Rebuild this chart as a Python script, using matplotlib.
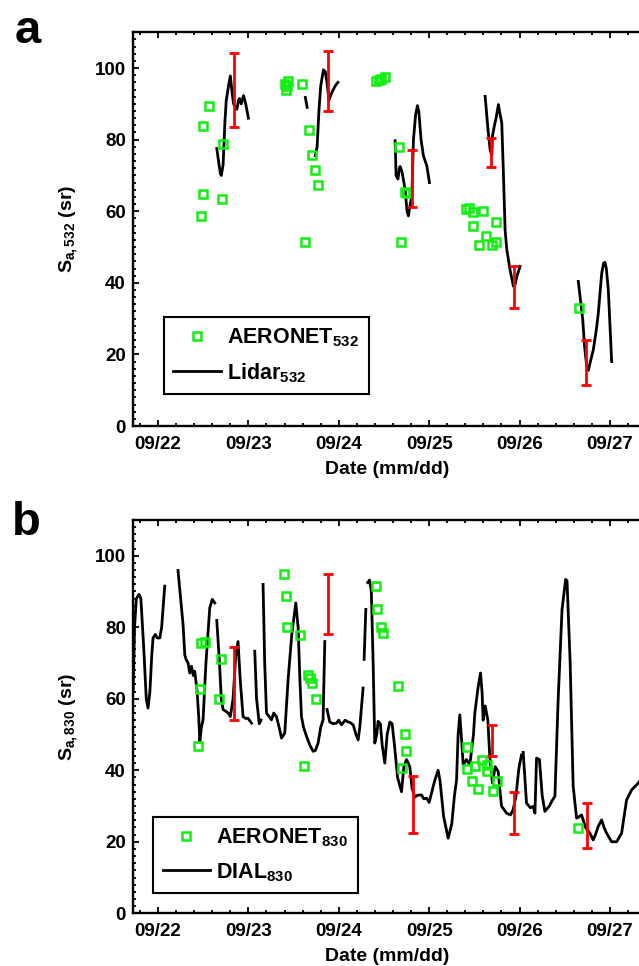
import numpy as np
import matplotlib
matplotlib.use('Agg')
import matplotlib.pyplot as plt
from matplotlib.ticker import MultipleLocator

nan = np.nan

# ---- panel a : 532 nm ----
aeronet532_day = [22.47, 22.50, 22.71, 22.50, 22.56, 22.72, 23.40, 23.42, 23.44, 23.43, 23.59,
                  23.67, 23.70, 23.74, 23.77, 23.63, 24.41, 24.44, 24.47, 24.51, 24.67, 24.73,
                  24.75, 24.69, 25.41, 25.44, 25.48, 25.59, 25.74, 25.48, 25.63, 25.55, 25.70,
                  25.74, 26.66]
aeronet532_val = [58.7, 64.8, 63.4, 83.9, 89.5, 78.8, 95.5, 94.0, 96.5, 95.0, 95.5,
                  82.8, 75.7, 71.5, 67.3, 51.5, 96.3, 96.8, 97.0, 97.4, 78.0, 65.3,
                  65.0, 51.5, 60.6, 60.8, 59.8, 60.1, 57.1, 55.8, 53.2, 50.6, 50.6,
                  51.5, 32.9]

lidar532_day = [22.65, 22.675, 22.69, 22.70, 22.72, 22.74, 22.755, 22.78, 22.80, 22.82, 22.836,
                22.855, 22.873, 22.89, 22.902, 22.92, 22.946, 22.97, 23.0,
                nan,
                23.63, 23.65,
                nan,
                23.74, 23.76, 23.78, 23.80, 23.83, 23.85, 23.87, 23.89, 23.905, 23.92, 23.94,
                23.96, 23.99,
                nan,
                24.623, 24.634, 24.655, 24.67, 24.678, 24.70, 24.734, 24.755, 24.77, 24.79,
                24.808, 24.826, 24.85, 24.87, 24.885, 24.91, 24.936, 24.974, 25.003,
                nan,
                25.619, 25.65, 25.675, 25.693, 25.70, 25.72, 25.74, 25.766, 25.785, 25.803,
                25.82, 25.84, 25.859, 25.895, 25.932, 25.95, 25.97, 26.006,
                nan,
                26.65, 26.699, 26.72, 26.743, 26.76, 26.779, 26.816, 26.85, 26.871, 26.909,
                26.93, 26.945, 26.96, 26.982, 27.019]
lidar532_val = [77.5, 73, 70.5, 70, 73, 85, 91, 95, 97.8, 93, 90,
                89, 88.5, 91, 91.5, 90, 92.3, 90, 86,
                nan,
                91.8, 89,
                nan,
                75.5, 78, 88, 95, 99.5, 99, 96, 91, 92, 93, 94,
                95, 96,
                nan,
                79.7, 70, 69, 72, 72.5, 71, 66, 60, 58.7, 62,
                64, 80, 87, 89.5, 88, 80, 75.5, 72.7, 68,
                nan,
                92.1, 83, 77, 75.8, 81, 83.7, 86, 89.8, 87, 84.7,
                71.6, 54.8, 49.2, 43.6, 39, 39.5, 41.8, 44.6,
                nan,
                40.4, 29.7, 22, 16.6, 15.5, 17.5, 21.3, 27, 31.5, 42.7,
                45.5, 45.7, 44, 38, 18]

err532_day = [22.844, 23.875, 24.815, 25.685, 25.936, 26.732]
err532_low = [83.6, 88.1, 61.3, 72.3, 32.9, 11.5]
err532_high = [104.1, 104.7, 77.2, 80.5, 44.6, 24.1]

# ---- panel b : 830 nm ----
aeronet830_day = [22.443, 22.46, 22.47, 22.52, 22.70, 22.68,
                  23.395, 23.421, 23.432, 23.568, 23.66, 23.679, 23.709, 23.746, 23.616,
                  24.409, 24.424, 24.462, 24.49, 24.656, 24.73, 24.749, 24.694,
                  25.413, 25.413, 25.469, 25.505, 25.58, 25.635, 25.542, 25.708, 25.745,
                  25.635, 26.649]
aeronet830_val = [46.7, 62.7, 75.6, 75.8, 71.1, 59.9,
                  94.9, 88.7, 80.0, 77.8, 66.7, 65.8, 64.4, 59.9, 41.1,
                  91.5, 85.1, 80.0, 78.4, 63.7, 50.1, 45.5, 40.6,
                  46.4, 40.3, 37.1, 41.1, 43.0, 41.5, 34.7, 34.1, 36.9,
                  39.7, 23.8]

dial830_day = [21.725, 21.74, 21.76, 21.79, 21.81, 21.84, 21.87, 21.889, 21.91, 21.93, 21.945,
               21.97, 21.99, 22.019, 22.04, 22.074,
               nan,
               22.221, 22.25, 22.277, 22.296, 22.31, 22.332, 22.351, 22.37, 22.39, 22.406, 22.432,
               22.45, 22.462, 22.48, 22.498, 22.53, 22.572, 22.60, 22.628,
               nan,
               22.65, 22.68, 22.70, 22.719, 22.75, 22.775, 22.80, 22.83, 22.86, 22.885, 22.91,
               22.941, 22.97, 22.996, 23.034,
               nan,
               23.07, 23.09, 23.12, 23.14,
               nan,
               23.162, 23.18, 23.2, 23.23, 23.255, 23.28, 23.31, 23.34, 23.366, 23.402, 23.44,
               23.48, 23.524, 23.55, 23.57, 23.587, 23.61, 23.643, 23.68, 23.716, 23.74, 23.771,
               23.80, 23.826, 23.845,
               nan,
               23.87, 23.90, 23.94, 23.975, 24.0, 24.03, 24.07, 24.10, 24.122, 24.159, 24.19,
               24.214, 24.232, 24.269,
               nan,
               24.28, 24.299,
               nan,
               24.32, 24.34, 24.36, 24.38, 24.398, 24.42, 24.435, 24.46, 24.48, 24.509, 24.535,
               24.565, 24.59, 24.62, 24.65, 24.694, 24.72, 24.749, 24.786, 24.81, 24.841, 24.87,
               24.915, 24.94, 24.971, 25.0, 25.03, 25.06, 25.099, 25.12, 25.16, 25.21, 25.25,
               25.28, 25.303, 25.32, 25.339, 25.36, 25.376, 25.413, 25.45, 25.49, 25.505, 25.54,
               25.568, 25.585, 25.597, 25.62, 25.649, 25.67, 25.70, 25.73, 25.763, 25.80, 25.856,
               25.90, 25.929, 25.96, 25.99, 26.003, 26.022,
               nan,
               26.04, 26.077, 26.12, 26.151, 26.17, 26.188, 26.22, 26.25, 26.28, 26.33, 26.36,
               26.391, 26.427, 26.47, 26.51, 26.525, 26.56, 26.593, 26.631, 26.66, 26.686, 26.73,
               26.778, 26.815, 26.84, 26.87, 26.908, 26.935, 26.963, 27.018, 27.074, 27.129,
               27.184, 27.24, 27.313, 27.36]
dial830_val = [62, 80, 88, 89.2, 88, 75, 60, 57.4, 62, 72, 77,
               78, 77, 77, 80, 91.5,
               nan,
               95.9, 88, 80.7, 72.3, 71, 70, 67.2, 69.1, 66.5, 67.7, 62.1,
               55, 48.1, 52, 54.1, 70, 85.4, 87.8, 86.8,
               nan,
               81.9, 70, 60, 57, 56.5, 56, 55, 60, 72, 76, 65,
               55, 54.5, 54.5, 53.2,
               nan,
               73.3, 60, 53, 54,
               nan,
               92, 70, 56, 55, 54.1, 56, 55, 52, 49, 50.4, 65.7,
               78, 86.8, 80, 65, 55, 52, 49.5, 47, 45.3, 45.5, 47.6,
               52, 54.1, 76,
               nan,
               57, 53.5, 53, 53.2, 54, 52.7, 54, 53.5, 53.4, 52.7, 50,
               48.5, 52, 63,
               nan,
               71, 85,
               nan,
               92.5, 93.2, 90, 70, 47.6, 50, 53.7, 53, 47, 42, 50,
               53.5, 53, 46, 38, 34, 41, 43, 41, 35, 32.5, 33,
               33.1, 32, 32.2, 31, 34, 37, 40, 37, 27, 21, 25,
               33, 37.3, 50, 55.5, 48, 41.5, 43, 41.5, 50, 56, 63,
               67.2, 62, 54, 58, 54, 44, 36.4, 41, 39.7, 30, 28,
               27.5, 29, 32.7, 40, 42, 44.3,
               nan,
               45, 30.8, 29.5, 29.9, 28, 43.4, 43, 33, 28.5, 30, 31.5,
               32.7, 59.8, 85, 93.4, 93, 70, 35.5, 26.6, 27, 27.5, 24,
               22.4, 20.5, 22, 24.3, 26.1, 24, 22.4, 20, 20, 22.4,
               31.7, 34.5, 36.4, 38]

err830_day = [22.841, 23.882, 24.822, 25.69, 25.94, 26.742]
err830_low = [54.1, 78.0, 22.4, 44.1, 22.1, 18.2]
err830_high = [74.5, 94.8, 38.3, 52.7, 33.8, 30.8]

day_ticks = [22, 23, 24, 25, 26, 27]
day_labels = ['09/22', '09/23', '09/24', '09/25', '09/26', '09/27']

plt.rcParams['font.family'] = ['Liberation Sans', 'DejaVu Sans']
plt.rcParams['font.weight'] = 'bold'
plt.rcParams['mathtext.fontset'] = 'custom'
plt.rcParams['mathtext.rm'] = 'Liberation Sans:bold'
plt.rcParams['mathtext.it'] = 'Liberation Sans:bold'
plt.rcParams['mathtext.bf'] = 'Liberation Sans:bold'

green = '#12ee12'

fig = plt.figure(figsize=(6.39, 9.66), dpi=100)
ax_a = fig.add_axes([0.208, 0.559, 0.7966, 0.4076])
ax_b = fig.add_axes([0.208, 0.0546, 0.7966, 0.4071])


def draw_panel(ax, a_day, a_val, l_day, l_val, e_day, e_lo, e_hi, a_lab, l_lab, ylab, leg_xy):
    ax.plot(a_day, a_val, ls='none', marker='s', ms=6, mfc='none', mec=green, mew=1.8,
            label=a_lab, zorder=3)
    ax.plot(l_day, l_val, color='black', lw=2.0, label=l_lab, zorder=2)
    lo = np.array(e_lo)
    hi = np.array(e_hi)
    ax.errorbar(e_day, (lo + hi) / 2, yerr=(hi - lo) / 2, fmt='none', ecolor='red',
                elinewidth=2.0, capsize=3.5, capthick=2.0, zorder=4)

    ax.set_xlim(21.722, 27.354)
    ax.set_ylim(0, 110)
    ax.set_xticks(day_ticks, labels=day_labels)
    ax.set_yticks([0, 20, 40, 60, 80, 100])
    ax.xaxis.set_minor_locator(MultipleLocator(0.2))
    ax.yaxis.set_minor_locator(MultipleLocator(2))
    ax.tick_params(which='both', direction='in', top=True, right=False, width=1.3,
                   labelsize=13.5)
    ax.tick_params(which='major', length=4)
    ax.tick_params(which='minor', length=2)
    ax.tick_params(axis='x', pad=7)
    ax.tick_params(axis='y', pad=5)
    for s in ax.spines.values():
        s.set_linewidth(1.7)
    ax.set_xlabel('Date (mm/dd)', fontsize=14, fontweight='bold', labelpad=6)
    ax.set_ylabel(ylab, fontsize=14, fontweight='bold')
    ax.yaxis.set_label_coords(-0.104, 0.5)

    leg = ax.legend(loc='lower left', bbox_to_anchor=leg_xy, borderaxespad=0,
                    fontsize=15.5, handlelength=2.2, handletextpad=0.3,
                    borderpad=0.45, labelspacing=0.55, fancybox=False, framealpha=1)
    leg.get_frame().set_edgecolor('black')
    leg.get_frame().set_linewidth(1.5)


draw_panel(ax_a, aeronet532_day, aeronet532_val, lidar532_day, lidar532_val,
           err532_day, err532_low, err532_high,
           'AERONET$_{532}$', 'Lidar$_{532}$', 'S$_{a,532}$ (sr)', (0.0605, 0.0805))
draw_panel(ax_b, aeronet830_day, aeronet830_val, dial830_day, dial830_val,
           err830_day, err830_low, err830_high,
           'AERONET$_{830}$', 'DIAL$_{830}$', 'S$_{a,830}$ (sr)', (0.0393, 0.0509))

fig.text(0.023, 0.9555, 'a', fontsize=34, fontweight='bold', va='baseline')
fig.text(0.019, 0.4462, 'b', fontsize=34, fontweight='bold', va='baseline')

fig.savefig('out.png', dpi=100)
